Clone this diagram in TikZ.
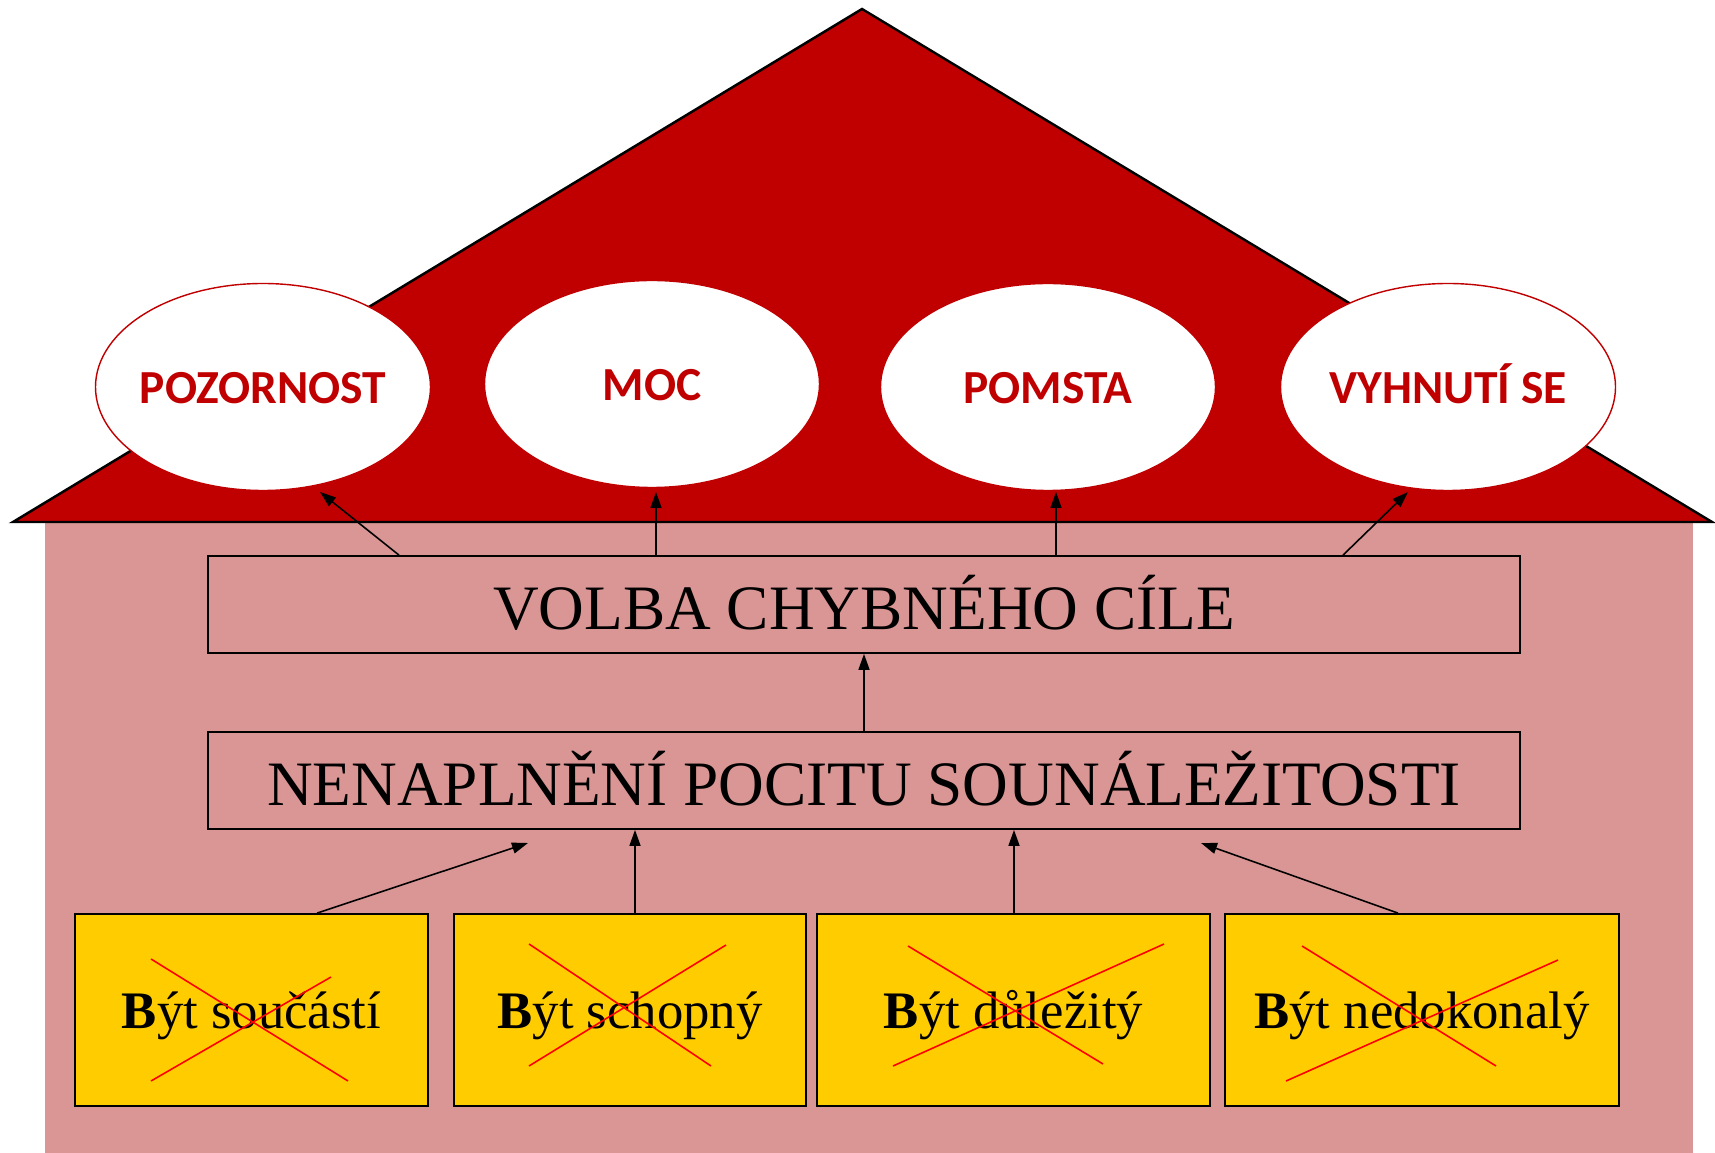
\documentclass[tikz,border=0pt]{standalone}
\usepackage{fontspec}
\setmainfont{Liberation Serif}
\newfontfamily\goalfont{Carlito}
\usetikzlibrary{shapes.geometric,arrows.meta}

\begin{document}
\begin{tikzpicture}[y=-1cm]
  % Define colors
  \definecolor{roofcolor}{HTML}{C00000}
  \definecolor{wallcolor}{HTML}{D99694}
  \definecolor{needcolor}{HTML}{FFCC00}
  \tikzset{
    goal/.style={ellipse, fill=white, draw=roofcolor, line width=0.4pt, minimum width=3.35cm, minimum height=2.07cm, inner sep=0pt, inner xsep=-4mm, text height=11.6pt, text depth=2pt, text=roofcolor, font=\goalfont\bfseries\fontsize{13.5}{16}\selectfont},
    bar/.style={rectangle, draw=black, line width=0.5pt, minimum width=13.12cm, minimum height=0.97cm, inner sep=0pt, text height=14.3pt, text depth=0pt, font=\fontsize{18}{21}\selectfont},
    need/.style={rectangle, draw=black, fill=needcolor, line width=0.5pt, minimum height=1.92cm, inner sep=0pt, text height=14pt, text depth=3.3pt, font=\fontsize{15}{18}\selectfont},
    arr/.style={-{Triangle[length=1.6mm, width=1.1mm]}, line width=0.45pt},
    cross/.style={draw=red, line width=0.45pt}
  }

  \useasboundingbox (0,0) rectangle (17.15,11.53);

  % House wall and roof
  \fill[wallcolor] (0.45,5.22) rectangle (16.93,11.53);
  \draw[fill=roofcolor, line width=0.7pt] (0.13,5.22) -- (8.62,0.09) -- (17.12,5.22) -- cycle;

  % Goals in the roof
  \node[goal] (pozornost) at (2.63,3.87) {POZORNOST};
  \node[goal] (moc) at (6.52,3.84) {MOC};
  \node[goal] (pomsta) at (10.48,3.87) {POMSTA};
  \node[goal] (vyhnuti) at (14.48,3.87) {VYHNUTÍ SE};

  % Middle bars
  \node[bar] (volba) at (8.64,6.045) {VOLBA CHYBNÉHO CÍLE};
  \node[bar] (nenapl) at (8.64,7.805) {NENAPLNĚNÍ POCITU SOUNÁLEŽITOSTI};

  % Needs
  \node[need, minimum width=3.53cm] (need1) at (2.515,10.10) {\textbf{B}ýt součástí};
  \node[need, minimum width=3.52cm] (need2) at (6.30,10.10) {\textbf{B}ýt schopný};
  \node[need, minimum width=3.93cm] (need3) at (10.135,10.10) {\textbf{B}ýt důležitý};
  \node[need, minimum width=3.94cm] (need4) at (14.22,10.10) {\textbf{B}ýt nedokonalý};

  % Crossed out
  \draw[cross] (1.51,9.59) -- (3.48,10.81);
  \draw[cross] (1.51,10.81) -- (3.31,9.77);
  \draw[cross] (5.29,9.44) -- (7.11,10.66);
  \draw[cross] (5.29,10.66) -- (7.26,9.45);
  \draw[cross] (9.08,9.46) -- (11.03,10.64);
  \draw[cross] (8.93,10.66) -- (11.64,9.44);
  \draw[cross] (13.02,9.46) -- (14.96,10.66);
  \draw[cross] (12.86,10.81) -- (15.58,9.60);

  % Arrow ends
  \coordinate (tip1) at (3.20,4.92);
  \coordinate (tip2) at (6.56,4.92);
  \coordinate (tip3) at (10.56,4.92);
  \coordinate (tip4) at (14.08,4.92);
  \coordinate (low1) at (5.28,8.43);
  \coordinate (low4) at (12.01,8.43);

  % Arrows
  \draw[arr] (3.99,0 |- volba.north) -- (tip1);
  \draw[arr] (6.56,0 |- volba.north) -- (tip2);
  \draw[arr] (10.56,0 |- volba.north) -- (tip3);
  \draw[arr] (13.43,0 |- volba.north) -- (tip4);
  \draw[arr] (nenapl.north) -- (volba.south);
  \draw[arr] (3.17,0 |- need1.north) -- (low1);
  \draw[arr] (6.35,0 |- need2.north) -- (6.35,0 |- nenapl.south);
  \draw[arr] (10.14,0 |- need3.north) -- (10.14,0 |- nenapl.south);
  \draw[arr] (13.98,0 |- need4.north) -- (low4);
\end{tikzpicture}
\end{document}
